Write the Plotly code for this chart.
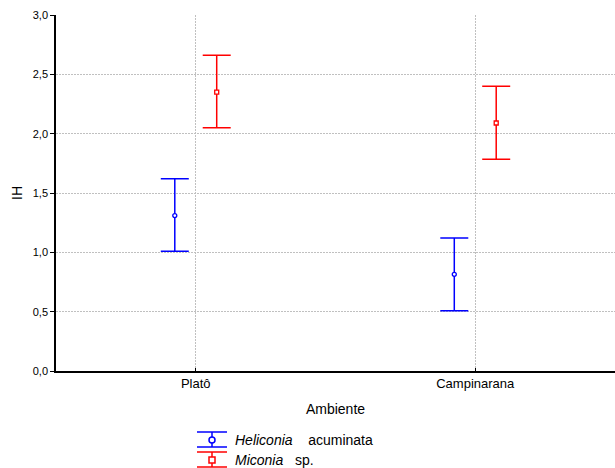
import plotly.graph_objects as go

categories = ["Platô", "Campinarana"]
heliconia_mean = [1.31, 0.815]
heliconia_upper = [1.62, 1.12]
heliconia_lower = [1.01, 0.507]
miconia_mean = [2.35, 2.09]
miconia_upper = [2.66, 2.40]
miconia_lower = [2.05, 1.785]
yticks = [0.0, 0.5, 1.0, 1.5, 2.0, 2.5, 3.0]

OFFSET = 0.075
idx = list(range(len(categories)))
BLUE = "#0000ff"
RED = "#ff0000"
FONT = "Liberation Sans, Arial, sans-serif"
GRID = "#c0c0c0"
DASH = "2px,1px"

fig = go.Figure()


def add_series(means, up, lo, sign, color, symbol, name):
    fig.add_trace(go.Scatter(
        x=[i + sign * OFFSET for i in idx],
        y=means,
        mode="markers",
        name=name,
        showlegend=False,
        marker=dict(symbol=symbol, size=4, color="white",
                    line=dict(color=color, width=1.3)),
        error_y=dict(type="data", symmetric=False,
                     array=[u - m for u, m in zip(up, means)],
                     arrayminus=[m - l for m, l in zip(means, lo)],
                     color=color, thickness=1.5, width=14),
    ))


add_series(heliconia_mean, heliconia_upper, heliconia_lower, -1, BLUE, "circle", "Heliconia acuminata")
add_series(miconia_mean, miconia_upper, miconia_lower, 1, RED, "square", "Miconia sp.")

# invisible trace to activate grid-only overlay axis
fig.add_trace(go.Scatter(x=[None], y=[None], yaxis="y2", showlegend=False, hoverinfo="skip"))

fig.update_layout(
    width=615, height=468,
    margin=dict(l=56, r=0, t=15, b=97),
    paper_bgcolor="white", plot_bgcolor="white",
    separators=",.",
    font=dict(family=FONT, size=11, color="black"),
    showlegend=False,
    xaxis=dict(
        range=[-0.5, 1.5], tickmode="array", tickvals=idx, ticktext=categories,
        showgrid=True, gridcolor=GRID, griddash=DASH, gridwidth=1,
        showline=True, linecolor="black", linewidth=1.5,
        ticks="inside", ticklen=3, tickcolor="black",
        zeroline=False,
        title=dict(text="Ambiente", font=dict(size=14, family=FONT), standoff=14),
        tickfont=dict(size=13),
    ),
    yaxis=dict(
        range=[0, 3.0], tickmode="array", tickvals=yticks, tickformat=".1f",
        showgrid=False, showline=True, linecolor="black", linewidth=1.5,
        ticks="outside", ticklen=4, tickcolor="black", zeroline=False,
        title=dict(text="IH", font=dict(size=14, family=FONT), standoff=7),
        tickfont=dict(size=11),
    ),
    yaxis2=dict(
        overlaying="y", matches="y", range=[0, 3.0], tickmode="array",
        tickvals=yticks[1:-1], showticklabels=False, showgrid=True,
        gridcolor=GRID, griddash=DASH, gridwidth=1, zeroline=False,
        showline=False, ticks="",
    ),
)

# legend drawn manually (error-bar glyphs)
legend_items = [("<i>Heliconia</i>    acuminata", BLUE, "circle", 0), ("<i>Miconia</i>   sp.", RED, "square", 1)]
for text, color, sym, k in legend_items:
    yc = 440 + 20 * k
    top = yc - 8
    bot = yc + 7
    x0, x1, xm = 197, 227, 212
    for yy in (top, bot):
        fig.add_shape(type="line", xref="paper", yref="paper",
                      x0=(x0 - 56) / 559, x1=(x1 - 56) / 559,
                      y0=(371 - yy) / 356, y1=(371 - yy) / 356,
                      line=dict(color=color, width=1.5))
    fig.add_shape(type="line", xref="paper", yref="paper",
                  x0=(xm - 56) / 559, x1=(xm - 56) / 559,
                  y0=(371 - top) / 356, y1=(371 - bot) / 356,
                  line=dict(color=color, width=1.5))
    if sym == "circle":
        fig.add_shape(type="circle", xref="paper", yref="paper",
                      x0=(xm - 3 - 56) / 559, x1=(xm + 3 - 56) / 559,
                      y0=(371 - (yc - 3)) / 356, y1=(371 - (yc + 3)) / 356,
                      line=dict(color=color, width=1.5), fillcolor="white")
    else:
        fig.add_shape(type="rect", xref="paper", yref="paper",
                      x0=(xm - 3 - 56) / 559, x1=(xm + 3 - 56) / 559,
                      y0=(371 - (yc - 3)) / 356, y1=(371 - (yc + 3)) / 356,
                      line=dict(color=color, width=1.5), fillcolor="white")
    fig.add_annotation(xref="paper", yref="paper", x=(233 - 56) / 559, y=(371 - yc) / 356,
                       text=text, showarrow=False, xanchor="left", yanchor="middle",
                       font=dict(size=14, family=FONT, color="black"))

fig.write_html("out.html", config={"displayModeBar": False},
               post_script="document.body.style.margin='0';document.body.style.padding='0';")
